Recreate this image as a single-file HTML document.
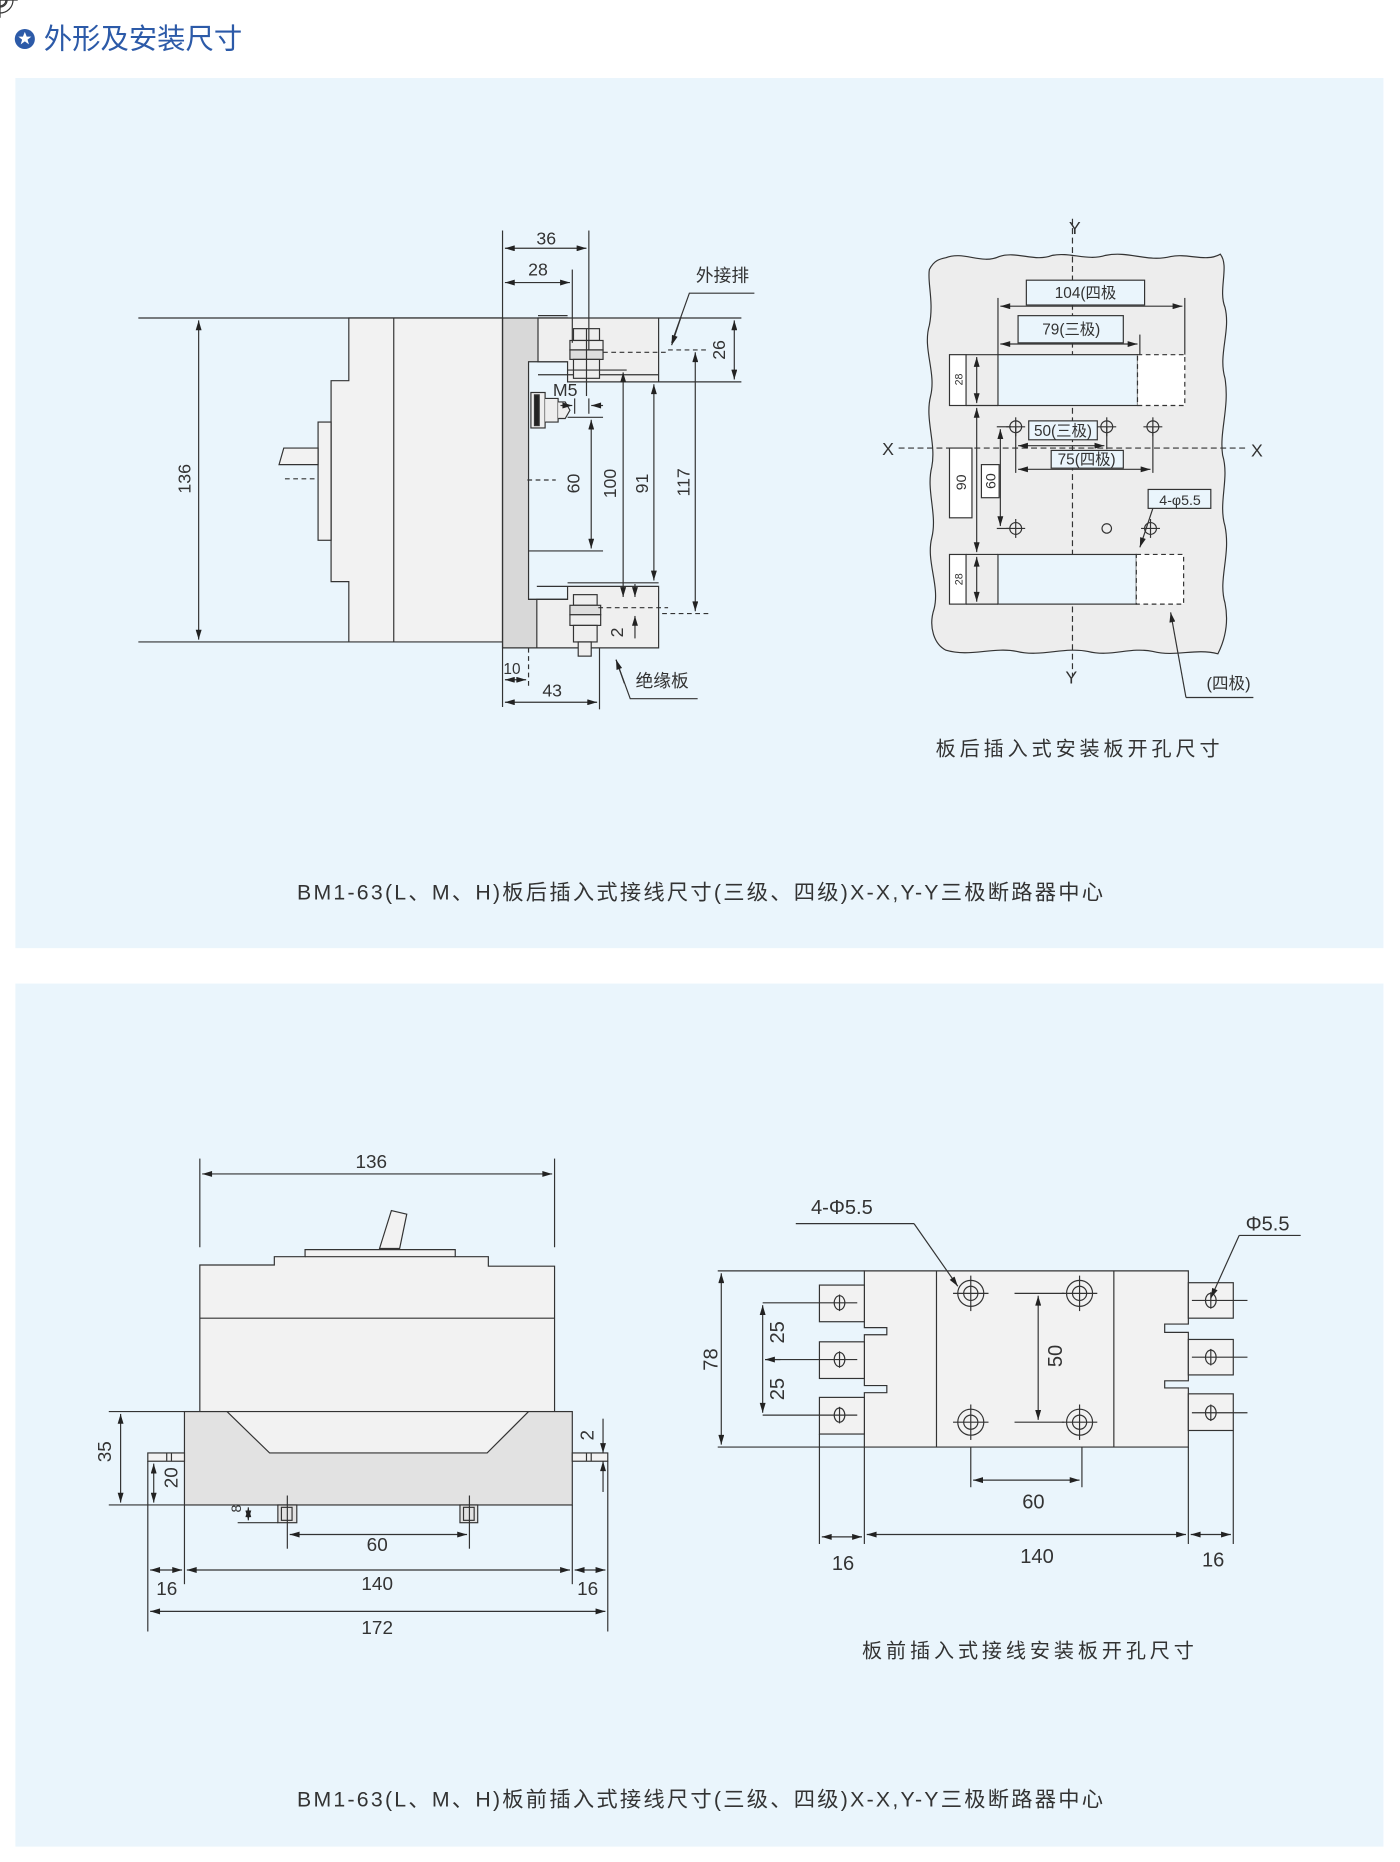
<!DOCTYPE html>
<html><head><meta charset="utf-8">
<style>
html,body{margin:0;padding:0;background:#fff;}
svg{display:block;}
text{font-family:"Liberation Sans","Noto Sans CJK SC",sans-serif;fill:#333;}
</style></head><body>
<svg width="1400" height="1862" viewBox="0 0 1184 1575" preserveAspectRatio="none" xmlns="http://www.w3.org/2000/svg">
<defs>
<marker id="a" viewBox="0 0 10 6" refX="10" refY="3" markerWidth="9" markerHeight="5" markerUnits="userSpaceOnUse" orient="auto-start-reverse"><path d="M0,0 L10,3 L0,6 z" fill="#222"/></marker>
</defs>
<rect width="1184" height="1575" fill="#fff"/>
<!-- title -->
<circle cx="21" cy="33" r="8.5" fill="#2c5aa8"/>
<polygon points="21,27 22.6,31 26.5,31 23.3,33.5 24.5,37.5 21,35 17.5,37.5 18.7,33.5 15.5,31 19.4,31" fill="#fff"/>
<text x="37" y="41" font-size="24" style="fill:#2c5aa8">外形及安装尺寸</text>
<!-- panels -->
<rect x="13" y="66" width="1157" height="736" fill="#eaf5fc"/>
<rect x="13" y="832" width="1157" height="730" fill="#eaf5fc"/>

<g stroke="#333" stroke-width="1" fill="none">
<!-- ===== TOP LEFT ===== -->
<line x1="117" y1="269" x2="425" y2="269"/>
<line x1="117" y1="543" x2="425" y2="543"/>
<path d="M295,269 H425 V543 H295 V492 H280 V322 H295 Z" fill="#f2f2f2"/>
<line x1="333" y1="269" x2="333" y2="543"/>
<rect x="269" y="357" width="11" height="100" fill="#f2f2f2"/>
<polygon points="269,379 240,379 236,393 269,393" fill="#f2f2f2"/>
<line x1="241" y1="405" x2="269" y2="405" stroke-dasharray="4,3"/>
<path d="M425,269 H480 V306 H447 V507 H480 V548 H425 Z" fill="#d8d8d8"/>
<path d="M455,269 H557 V323 H480 V306 H455 Z" fill="#efefef"/>
<line x1="455" y1="267" x2="480" y2="267"/>
<line x1="455" y1="317" x2="557" y2="317"/>
<path d="M454,496 H557 V548 H454 V507 H480 V496" fill="#efefef"/>
<line x1="447" y1="507" x2="480" y2="507"/>
<rect x="485" y="278" width="22" height="10" fill="#eee"/>
<rect x="482" y="288" width="28" height="8" fill="#eee"/>
<rect x="482" y="296" width="28" height="8" fill="#ddd"/>
<rect x="485" y="304" width="22" height="16" fill="#eee"/>
<line x1="496" y1="278" x2="496" y2="335"/>
<line x1="510" y1="298" x2="565" y2="298" stroke-dasharray="4,3"/>
<rect x="485" y="503" width="20" height="9" fill="#eee"/>
<rect x="482" y="512" width="26" height="8" fill="#ddd"/>
<rect x="482" y="520" width="26" height="9" fill="#eee"/>
<rect x="485" y="529" width="20" height="14" fill="#eee"/>
<rect x="489" y="543" width="11" height="12" fill="#eee"/>
<line x1="506" y1="514" x2="565" y2="514" stroke-dasharray="4,3"/>
<rect x="449" y="332" width="12" height="30" fill="#eee"/>
<rect x="452" y="334" width="4" height="26" fill="#222"/>
<path d="M461,337 H472 V357 H461" fill="#eee"/>
<path d="M472,340 H478 L482,347 L478,354 H472" fill="#eee"/>
<line x1="168" y1="271" x2="168" y2="541" marker-start="url(#a)" marker-end="url(#a)"/>
<line x1="425" y1="195" x2="425" y2="598"/>
<line x1="498" y1="195" x2="498" y2="296"/>
<line x1="484" y1="228" x2="484" y2="290"/>
<line x1="427" y1="210" x2="496" y2="210" marker-start="url(#a)" marker-end="url(#a)"/>
<line x1="427" y1="239" x2="482" y2="239" marker-start="url(#a)" marker-end="url(#a)"/>
<line x1="557" y1="269" x2="627" y2="269"/>
<line x1="557" y1="323" x2="627" y2="323"/>
<line x1="621" y1="271" x2="621" y2="321" marker-start="url(#a)" marker-end="url(#a)"/>
<line x1="565" y1="296" x2="600" y2="296" stroke-dasharray="4,3"/>
<line x1="560" y1="519" x2="600" y2="519" stroke-dasharray="4,3"/>
<line x1="588" y1="298" x2="588" y2="517" marker-start="url(#a)" marker-end="url(#a)"/>
<line x1="553" y1="325" x2="553" y2="491" marker-start="url(#a)" marker-end="url(#a)"/>
<line x1="480" y1="493" x2="557" y2="493"/>
<line x1="480" y1="313" x2="530" y2="313"/>
<line x1="527" y1="315" x2="527" y2="505" marker-start="url(#a)" marker-end="url(#a)"/>
<line x1="480" y1="353" x2="510" y2="353"/>
<line x1="447" y1="466" x2="510" y2="466"/>
<line x1="500" y1="355" x2="500" y2="464" marker-start="url(#a)" marker-end="url(#a)"/>
<line x1="446" y1="406" x2="470" y2="406" stroke-dasharray="4,3"/>
<line x1="486" y1="337" x2="486" y2="350"/>
<line x1="498" y1="337" x2="498" y2="350"/>
<line x1="474" y1="343" x2="484" y2="343" marker-end="url(#a)"/>
<line x1="510" y1="343" x2="500" y2="343" marker-end="url(#a)"/>
<line x1="537" y1="494" x2="537" y2="505" marker-end="url(#a)"/>
<line x1="537" y1="540" x2="537" y2="521" marker-end="url(#a)"/>
<line x1="447" y1="548" x2="447" y2="580" stroke-dasharray="4,3"/>
<line x1="507" y1="548" x2="507" y2="600"/>
<line x1="427" y1="575" x2="445" y2="575" marker-start="url(#a)" marker-end="url(#a)"/>
<line x1="427" y1="594" x2="505" y2="594" marker-start="url(#a)" marker-end="url(#a)"/>
<polyline points="638,248 583,248 568,290"/>
<line x1="576" y1="268" x2="568" y2="292" marker-end="url(#a)"/>
<polyline points="590,591 533,591 521,558"/>
<line x1="528" y1="578" x2="521" y2="558" marker-end="url(#a)"/>
</g>
<g font-size="15" text-anchor="middle">
<text x="462" y="207">36</text>
<text x="455" y="233">28</text>
<text x="433" y="570" font-size="13">10</text>
<text x="467" y="589">43</text>
<text x="478" y="335">M5</text>
<text transform="translate(161,405) rotate(-90)">136</text>
<text transform="translate(613,296) rotate(-90)">26</text>
<text transform="translate(583,408) rotate(-90)">117</text>
<text transform="translate(548,409) rotate(-90)">91</text>
<text transform="translate(521,409) rotate(-90)">100</text>
<text transform="translate(490,409) rotate(-90)">60</text>
<text transform="translate(527,535) rotate(-90)">2</text>
<text x="611" y="238">外接排</text>
<text x="560" y="581">绝缘板</text>
</g>

<!-- ===== TOP RIGHT plate ===== -->
<path d="M800,218 C815,212 830,224 845,217 C860,212 875,222 890,216 C905,213 920,221 935,216 C955,212 970,222 990,217 C1005,214 1020,222 1032,215 C1040,225 1030,245 1036,260 C1041,280 1030,300 1036,320 C1040,345 1031,365 1034,385 C1040,405 1030,425 1036,445 C1041,470 1030,490 1036,510 C1040,530 1034,545 1030,553 C1010,548 995,556 975,551 C955,547 940,556 920,551 C900,547 880,556 860,551 C840,547 820,556 800,550 C790,545 785,530 790,515 C795,495 783,475 788,455 C793,435 783,415 788,395 C792,375 782,355 787,335 C792,315 780,295 786,275 C790,255 784,238 786,228 C790,220 795,219 800,218 Z" fill="#ededed" stroke="#333" stroke-width="1"/>
<g stroke="#333" stroke-width="1" fill="none">
<line x1="907" y1="185" x2="907" y2="572" stroke-dasharray="5,3"/>
<line x1="760" y1="379" x2="1055" y2="379" stroke-dasharray="5,3"/>
<rect x="868" y="237" width="100" height="21" fill="#eaf5fc"/>
<rect x="861" y="267" width="89" height="23" fill="#eaf5fc"/>
<line x1="846" y1="259" x2="1000" y2="259" marker-start="url(#a)" marker-end="url(#a)"/>
<line x1="846" y1="291" x2="962" y2="291" marker-start="url(#a)" marker-end="url(#a)"/>
<line x1="844" y1="252" x2="844" y2="300"/>
<line x1="1002" y1="252" x2="1002" y2="300"/>
<line x1="964" y1="283" x2="964" y2="300"/>
<rect x="844" y="300" width="118" height="43" fill="#eaf5fc"/>
<rect x="962" y="300" width="40" height="43" fill="#fff" stroke-dasharray="4,3"/>
<rect x="844" y="469" width="117" height="42" fill="#eaf5fc"/>
<rect x="961" y="469" width="40" height="42" fill="#fff" stroke-dasharray="4,3"/>
<rect x="803" y="300" width="14" height="43" fill="#fff"/>
<rect x="803" y="469" width="14" height="42" fill="#fff"/>
<rect x="803" y="379" width="19" height="59" fill="#fff"/>
<rect x="830" y="393" width="15" height="28" fill="#fff"/>
<line x1="817" y1="300" x2="844" y2="300"/>
<line x1="817" y1="343" x2="844" y2="343"/>
<line x1="817" y1="469" x2="844" y2="469"/>
<line x1="817" y1="511" x2="844" y2="511"/>
<line x1="826" y1="302" x2="826" y2="341" marker-start="url(#a)" marker-end="url(#a)"/>
<line x1="826" y1="345" x2="826" y2="467" marker-start="url(#a)" marker-end="url(#a)"/>
<line x1="826" y1="471" x2="826" y2="509" marker-start="url(#a)" marker-end="url(#a)"/>
<line x1="846" y1="363" x2="846" y2="445" marker-start="url(#a)" marker-end="url(#a)"/>
<line x1="843" y1="361" x2="855" y2="361"/>
<line x1="843" y1="447" x2="855" y2="447"/>
<rect x="870" y="356" width="58" height="16" fill="#eaf5fc"/>
<rect x="889" y="381" width="61" height="15" fill="#eaf5fc"/>
<line x1="861" y1="377" x2="934" y2="377" marker-start="url(#a)" marker-end="url(#a)"/>
<line x1="861" y1="397" x2="973" y2="397" marker-start="url(#a)" marker-end="url(#a)"/>
<line x1="859" y1="361" x2="859" y2="400"/>
<line x1="936" y1="361" x2="936" y2="380"/>
<line x1="975" y1="361" x2="975" y2="400"/>
<rect x="971" y="414" width="53" height="16" fill="#eaf5fc"/>
<line x1="975" y1="430" x2="964" y2="463" marker-end="url(#a)"/>
<line x1="1003" y1="590" x2="990" y2="518" marker-end="url(#a)"/>
<line x1="1003" y1="590" x2="1060" y2="590"/>
<circle cx="936" cy="447" r="4"/>
</g>
<g stroke="#333" stroke-width="1" fill="none">
<g id="h"><circle cx="0" cy="0" r="5"/><line x1="-8" y1="0" x2="8" y2="0"/><line x1="0" y1="-8" x2="0" y2="8"/></g>
</g>
<g stroke="#333" fill="none">
<use href="#h" x="859" y="361"/><use href="#h" x="936" y="361"/><use href="#h" x="975" y="361"/>
<use href="#h" x="859" y="447"/><use href="#h" x="973" y="447"/>
</g>
<g font-size="13" text-anchor="middle">
<text x="918" y="252">104(四极</text>
<text x="906" y="283">79(三极)</text>
<text x="899" y="369">50(三极)</text>
<text x="919" y="393">75(四极)</text>
<text x="998" y="427" font-size="12">4-φ5.5</text>
<text x="1039" y="583" font-size="14">(四极)</text>
<text transform="translate(814,321) rotate(-90)" font-size="9">28</text>
<text transform="translate(814,490) rotate(-90)" font-size="9">28</text>
<text transform="translate(817,408) rotate(-90)" font-size="12">90</text>
<text transform="translate(842,407) rotate(-90)" font-size="12">60</text>
<text x="751" y="385" font-size="15">X</text>
<text x="1063" y="386" font-size="15">X</text>
<text x="909" y="198" font-size="15">Y</text>
<text x="906" y="578" font-size="15">Y</text>
<text x="913" y="639" font-size="17" letter-spacing="3.3">板后插入式安装板开孔尺寸</text>
<text x="593" y="761" font-size="18" letter-spacing="1.9">BM1-63(L、M、H)板后插入式接线尺寸(三级、四级)X-X,Y-Y三极断路器中心</text>
</g>

<!-- ===== BOTTOM LEFT ===== -->
<g stroke="#333" stroke-width="1" fill="none">
<path d="M169,1194 V1070 H232 V1063 H258 V1057 H385 V1063 H413 V1071 H469 V1194 Z" fill="#f2f2f2"/>
<line x1="258" y1="1063" x2="385" y2="1063"/>
<line x1="169" y1="1115" x2="469" y2="1115"/>
<polygon points="321,1056 331,1024 344,1027 338,1056" fill="#f2f2f2"/>
<rect x="156" y="1194" width="328" height="79" fill="#e2e2e2"/>
<polygon points="192,1194 447,1194 412,1229 228,1229" fill="#f2f2f2"/>
<rect x="125" y="1229" width="31" height="7" fill="#f2f2f2"/>
<line x1="141" y1="1229" x2="141" y2="1236"/><line x1="145" y1="1229" x2="145" y2="1236"/>
<rect x="484" y="1229" width="30" height="7" fill="#f2f2f2"/>
<line x1="496" y1="1229" x2="496" y2="1236"/><line x1="500" y1="1229" x2="500" y2="1236"/>
<rect x="235" y="1273" width="16" height="15" fill="#e2e2e2"/>
<rect x="238" y="1275" width="9" height="11"/>
<rect x="389" y="1273" width="15" height="15" fill="#e2e2e2"/>
<rect x="392" y="1275" width="9" height="11"/>
<line x1="169" y1="980" x2="169" y2="1055"/>
<line x1="469" y1="980" x2="469" y2="1055"/>
<line x1="171" y1="993" x2="467" y2="993" marker-start="url(#a)" marker-end="url(#a)"/>
<line x1="92" y1="1194" x2="156" y2="1194"/>
<line x1="92" y1="1273" x2="156" y2="1273"/>
<line x1="102" y1="1196" x2="102" y2="1271" marker-start="url(#a)" marker-end="url(#a)"/>
<line x1="130" y1="1238" x2="130" y2="1271" marker-start="url(#a)" marker-end="url(#a)"/>
<line x1="201" y1="1288" x2="235" y2="1288"/>
<line x1="210" y1="1275" x2="210" y2="1286" marker-start="url(#a)" marker-end="url(#a)"/>
<line x1="243" y1="1265" x2="243" y2="1310"/>
<line x1="397" y1="1265" x2="397" y2="1310"/>
<line x1="245" y1="1298" x2="395" y2="1298" marker-start="url(#a)" marker-end="url(#a)"/>
<line x1="125" y1="1236" x2="125" y2="1380"/>
<line x1="156" y1="1273" x2="156" y2="1340"/>
<line x1="484" y1="1273" x2="484" y2="1340"/>
<line x1="514" y1="1236" x2="514" y2="1380"/>
<line x1="127" y1="1328" x2="154" y2="1328" marker-start="url(#a)" marker-end="url(#a)"/>
<line x1="158" y1="1328" x2="482" y2="1328" marker-start="url(#a)" marker-end="url(#a)"/>
<line x1="486" y1="1328" x2="512" y2="1328" marker-start="url(#a)" marker-end="url(#a)"/>
<line x1="127" y1="1363" x2="512" y2="1363" marker-start="url(#a)" marker-end="url(#a)"/>
<line x1="510" y1="1200" x2="510" y2="1229" marker-end="url(#a)"/>
<line x1="510" y1="1262" x2="510" y2="1236" marker-end="url(#a)"/>
</g>
<g font-size="16" text-anchor="middle">
<text x="314" y="988">136</text>
<text x="319" y="1312">60</text>
<text x="319" y="1345">140</text>
<text x="141" y="1349">16</text>
<text x="497" y="1349">16</text>
<text x="319" y="1382">172</text>
<text transform="translate(94,1228) rotate(-90)">35</text>
<text transform="translate(150,1250) rotate(-90)">20</text>
<text transform="translate(204,1276) rotate(-90)" font-size="12">8</text>
<text transform="translate(502,1214) rotate(-90)">2</text>
</g>

<!-- ===== BOTTOM RIGHT ===== -->
<g stroke="#333" stroke-width="1" fill="none">
<path d="M731,1075 H1005 V1120 H985 V1127 H1005 V1168 H985 V1174 H1005 V1224 H731 V1178 H750 V1172 H731 V1129 H750 V1123 H731 Z" fill="#f2f2f2"/>
<line x1="792" y1="1075" x2="792" y2="1224"/>
<line x1="942" y1="1075" x2="942" y2="1224"/>
<rect x="693" y="1087" width="38" height="31" fill="#f2f2f2"/>
<rect x="693" y="1135" width="38" height="31" fill="#f2f2f2"/>
<rect x="693" y="1182" width="38" height="31" fill="#f2f2f2"/>
<rect x="1005" y="1085" width="38" height="30" fill="#f2f2f2"/>
<rect x="1005" y="1133" width="38" height="30" fill="#f2f2f2"/>
<rect x="1005" y="1179" width="38" height="31" fill="#f2f2f2"/>
<line x1="645" y1="1102" x2="725" y2="1102"/>
<line x1="645" y1="1197" x2="725" y2="1197"/>
<line x1="647" y1="1150" x2="725" y2="1150"/>
<line x1="1008" y1="1100" x2="1055" y2="1100"/>
<line x1="1008" y1="1148" x2="1055" y2="1148"/>
<line x1="1008" y1="1195" x2="1055" y2="1195"/>
<ellipse cx="710" cy="1102" rx="4.5" ry="6"/><line x1="710" y1="1095" x2="710" y2="1109"/>
<ellipse cx="710" cy="1150" rx="4.5" ry="6"/><line x1="710" y1="1143" x2="710" y2="1157"/>
<ellipse cx="710" cy="1197" rx="4.5" ry="6"/><line x1="710" y1="1190" x2="710" y2="1204"/>
<ellipse cx="1024" cy="1100" rx="4.5" ry="6"/><line x1="1024" y1="1093" x2="1024" y2="1107"/>
<ellipse cx="1024" cy="1148" rx="4.5" ry="6"/><line x1="1024" y1="1141" x2="1024" y2="1155"/>
<ellipse cx="1024" cy="1195" rx="4.5" ry="6"/><line x1="1024" y1="1188" x2="1024" y2="1202"/>
<g id="mh"><circle cx="0" cy="0" r="11"/><circle cx="0" cy="0" r="6"/><line x1="-15" y1="0" x2="15" y2="0"/><line x1="0" y1="-15" x2="0" y2="15"/></g>
</g>
<g stroke="#333" fill="none">
<use href="#mh" x="821" y="1094"/><use href="#mh" x="913" y="1094"/>
<use href="#mh" x="821" y="1203"/><use href="#mh" x="913" y="1203"/>
</g>
<g stroke="#333" stroke-width="1" fill="none">
<line x1="607" y1="1075" x2="731" y2="1075"/>
<line x1="607" y1="1224" x2="731" y2="1224"/>
<line x1="610" y1="1077" x2="610" y2="1222" marker-start="url(#a)" marker-end="url(#a)"/>
<line x1="645" y1="1104" x2="645" y2="1195" marker-start="url(#a)" marker-end="url(#a)"/>
<line x1="660" y1="1150" x2="647" y2="1150" marker-end="url(#a)"/>
<line x1="858" y1="1094" x2="900" y2="1094"/>
<line x1="858" y1="1203" x2="900" y2="1203"/>
<line x1="878" y1="1096" x2="878" y2="1201" marker-start="url(#a)" marker-end="url(#a)"/>
<line x1="821" y1="1224" x2="821" y2="1258"/>
<line x1="915" y1="1224" x2="915" y2="1258"/>
<line x1="823" y1="1252" x2="913" y2="1252" marker-start="url(#a)" marker-end="url(#a)"/>
<line x1="693" y1="1213" x2="693" y2="1306"/>
<line x1="731" y1="1224" x2="731" y2="1306"/>
<line x1="1005" y1="1224" x2="1005" y2="1306"/>
<line x1="1043" y1="1210" x2="1043" y2="1306"/>
<line x1="695" y1="1300" x2="729" y2="1300" marker-start="url(#a)" marker-end="url(#a)"/>
<line x1="733" y1="1298" x2="1003" y2="1298" marker-start="url(#a)" marker-end="url(#a)"/>
<line x1="1007" y1="1298" x2="1041" y2="1298" marker-start="url(#a)" marker-end="url(#a)"/>
<polyline points="673,1035 773,1035"/>
<line x1="773" y1="1035" x2="810" y2="1088" marker-end="url(#a)"/>
<polyline points="1100,1045 1048,1045"/>
<line x1="1048" y1="1045" x2="1024" y2="1098" marker-end="url(#a)"/>
</g>
<g font-size="17" text-anchor="middle">
<text x="712" y="1027">4-Φ5.5</text>
<text x="1072" y="1041">Φ5.5</text>
<text transform="translate(607,1150) rotate(-90)">78</text>
<text transform="translate(663,1127) rotate(-90)">25</text>
<text transform="translate(663,1175) rotate(-90)">25</text>
<text transform="translate(898,1147) rotate(-90)">50</text>
<text x="874" y="1276">60</text>
<text x="877" y="1322">140</text>
<text x="713" y="1328">16</text>
<text x="1026" y="1325">16</text>
<text x="871" y="1402" font-size="17" letter-spacing="3.3">板前插入式接线安装板开孔尺寸</text>
<text x="593" y="1528" font-size="18" letter-spacing="1.9">BM1-63(L、M、H)板前插入式接线尺寸(三级、四级)X-X,Y-Y三极断路器中心</text>
</g>
</svg>
</body></html>
